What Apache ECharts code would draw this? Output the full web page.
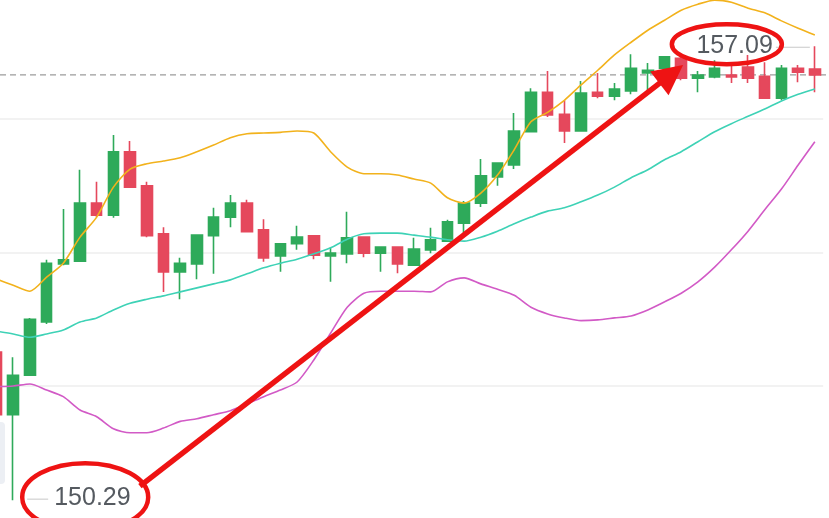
<!DOCTYPE html>
<html>
<head>
<meta charset="utf-8">
<script src="https://cdn.jsdelivr.net/npm/echarts@6/dist/echarts.min.js"></script>
<style>
html,body{margin:0;padding:0;background:#fff;}
#chart{width:829px;height:518px;}
</style>
</head>
<body>
<div id="chart"></div>
<script>
// ---- data ----
const categories = Array.from({length: 50}, (_, i) => String(i + 1));
const opens  = [152.51,151.57,152.16,152.96,153.83,153.87,154.74,154.56,155.51,155.00,154.28,153.71,153.83,154.25,154.53,154.74,154.34,153.95,154.13,154.25,153.95,153.98,154.23,153.99,154.08,153.81,154.04,154.17,154.44,154.74,155.13,155.31,155.81,156.40,156.07,155.82,156.40,156.34,156.42,156.69,156.76,156.91,156.61,156.63,156.66,156.78,156.64,156.31,156.76,156.75];
const closes = [151.57,152.16,153.00,153.84,153.89,154.74,154.56,155.51,154.98,154.25,153.71,153.84,154.26,154.53,154.74,154.31,153.92,154.13,154.23,153.96,153.99,154.22,153.99,154.08,153.83,154.05,154.19,154.46,154.74,155.15,155.34,155.82,156.40,156.06,155.82,156.39,156.34,156.45,156.76,156.73,156.93,156.61,156.66,156.76,156.63,156.61,156.31,156.76,156.70,156.66];
const lows   = [151.49,150.29,152.15,152.93,153.81,153.86,154.53,154.52,154.97,154.23,153.41,153.30,153.60,153.68,154.38,154.30,153.86,153.71,154.04,153.90,153.56,153.84,153.93,153.71,153.69,153.80,153.99,154.16,154.29,154.68,155.00,155.25,155.80,156.03,155.64,155.81,156.31,156.28,156.37,156.43,156.51,156.58,156.40,156.61,156.54,156.54,156.30,156.28,156.55,156.40];
const highs  = [152.61,152.43,153.02,153.89,154.65,155.24,155.06,155.76,155.67,155.06,154.38,153.92,154.27,154.67,154.86,154.79,154.50,154.14,154.40,154.26,154.07,154.61,154.24,154.09,154.09,154.22,154.37,154.49,154.77,155.40,155.35,156.09,156.46,156.72,156.28,156.57,156.69,156.54,156.97,156.84,156.94,156.96,156.72,156.88,156.85,156.96,156.85,156.81,156.81,157.09];
const upperBand = [153.60,153.51,153.42,153.63,153.84,154.23,154.53,154.98,155.25,155.33,155.37,155.42,155.51,155.61,155.72,155.78,155.79,155.80,155.82,155.79,155.51,155.28,155.18,155.18,155.16,155.10,155.04,154.82,154.74,154.89,155.16,155.54,155.96,156.10,156.28,156.51,156.73,156.96,157.15,157.33,157.48,157.63,157.72,157.78,157.75,157.66,157.59,157.47,157.36,157.26];
const midBand   = [152.82,152.78,152.73,152.78,152.84,152.96,153.02,153.14,153.24,153.30,153.35,153.41,153.47,153.53,153.59,153.68,153.77,153.84,153.90,153.98,154.07,154.20,154.28,154.29,154.29,154.26,154.23,154.19,154.17,154.23,154.32,154.43,154.53,154.62,154.67,154.76,154.86,154.98,155.12,155.24,155.39,155.51,155.66,155.81,155.93,156.04,156.15,156.27,156.37,156.45];
const lowerBand = [151.99,152.00,152.03,151.94,151.84,151.64,151.54,151.36,151.30,151.30,151.37,151.47,151.51,151.57,151.63,151.73,151.84,151.94,152.06,152.39,152.79,153.18,153.39,153.42,153.42,153.42,153.41,153.56,153.62,153.53,153.45,153.36,153.18,153.08,153.02,152.98,152.99,153.02,153.05,153.14,153.26,153.39,153.56,153.78,154.04,154.32,154.64,154.95,155.31,155.66];
const lastPrice = 156.66;
const lowLabel = '150.29';
const highLabel = '157.09';
const lowIndex = 1, highIndex = 49;          // category indices of the extreme candles
const arrowFrom = [8.59, 150.50];            // [category position, price]
const arrowTo   = [41.11, 156.81];

const UP = '#2EAA5A', DOWN = '#E5485C', RED = '#EE1313';

const candles = opens.map((o, i) => [o, closes[i], lows[i], highs[i]]);

const chart = echarts.init(document.getElementById('chart'), null, {renderer: 'canvas'});
const option = {
  animation: false,
  backgroundColor: '#ffffff',
  grid: {left: -11.85, right: 5.8, top: -14.5, bottom: -1.5, containLabel: false, outerBoundsMode: 'none'},
  xAxis: [
    {type: 'category', data: categories, boundaryGap: true, show: false},
    {type: 'value', min: -0.5, max: 49.5, show: false, splitLine: {show: false}}
  ],
  yAxis: {
    type: 'value', min: 150, max: 158, interval: 2, scale: true,
    axisLine: {show: false}, axisTick: {show: false}, axisLabel: {show: false},
    splitLine: {show: true, lineStyle: {color: '#eeeeee', width: 1.5}}
  },
  series: [
    {
      type: 'candlestick', data: candles, barWidth: 11, z: 2,
      itemStyle: {color: UP, color0: DOWN, borderColor: UP, borderColor0: DOWN, borderWidth: 1.6}
    },
    {type: 'line', data: upperBand, symbol: 'none', smooth: 0.25, z: 3,
     lineStyle: {color: '#F2B21C', width: 1.6}},
    {type: 'line', data: midBand, symbol: 'none', smooth: 0.25, z: 3,
     lineStyle: {color: '#3ED2B6', width: 1.6}},
    {type: 'line', data: lowerBand, symbol: 'none', smooth: 0.25, z: 3,
     lineStyle: {color: '#D25AC6', width: 1.6}}
  ]
};
chart.setOption(option);

function px(pos, price) {
  return chart.convertToPixel({xAxisIndex: 1, yAxisIndex: 0}, [pos, price]);
}
const lowPt = px(lowIndex, parseFloat(lowLabel));
const highPt = px(highIndex, parseFloat(highLabel));
const lastY = chart.convertToPixel({yAxisIndex: 0}, lastPrice);
const a0 = px(arrowFrom[0], arrowFrom[1]);
const a1 = px(arrowTo[0], arrowTo[1]);
const dx = a1[0] - a0[0], dy = a1[1] - a0[1];
const len = Math.sqrt(dx * dx + dy * dy);
const ux = dx / len, uy = dy / len;
const headLen = 30, headHalf = 15;
const base = [a1[0] - ux * headLen, a1[1] - uy * headLen];
const nx = -uy, ny = ux;

const textStyle = {fill: '#555a60', fontSize: 25, fontFamily: 'Liberation Sans, Arial, sans-serif'};

chart.setOption({
  graphic: [
    {type: 'line', z: 1, shape: {x1: 0, y1: lastY, x2: 829, y2: lastY},
     style: {stroke: '#9c9c9c', lineWidth: 1.3, lineDash: [6, 4]}},
    {type: 'rect', z: 5, shape: {x: -6, y: 422, width: 11, height: 62, r: 4}, style: {fill: '#eceff4'}},
    // low label
    {type: 'line', z: 5, shape: {x1: lowPt[0] + 14, y1: lowPt[1] - 1, x2: lowPt[0] + 35, y2: lowPt[1] - 1},
     style: {stroke: '#c8c8c8', lineWidth: 1}},
    {type: 'text', z: 5, x: lowPt[0] + 41, y: lowPt[1] - 2,
     style: Object.assign({text: lowLabel, verticalAlign: 'middle', align: 'left'}, textStyle)},
    // high label
    {type: 'line', z: 5, shape: {x1: highPt[0] - 39, y1: highPt[1] + 1, x2: highPt[0] - 5, y2: highPt[1] + 1},
     style: {stroke: '#c8c8c8', lineWidth: 1}},
    {type: 'text', z: 5, x: highPt[0] - 42, y: highPt[1],
     style: Object.assign({text: highLabel, verticalAlign: 'middle', align: 'right'}, textStyle)},
    // ellipses
    {type: 'ellipse', z: 6, shape: {cx: lowPt[0] + 72, cy: lowPt[1] - 3, rx: 63, ry: 34},
     style: {fill: 'none', stroke: RED, lineWidth: 4.5}},
    {type: 'ellipse', z: 6, shape: {cx: highPt[0] - 88, cy: highPt[1] - 2, rx: 55, ry: 20},
     style: {fill: 'none', stroke: RED, lineWidth: 4.5}},
    // arrow
    {type: 'line', z: 6, shape: {x1: a0[0], y1: a0[1], x2: base[0] + ux * 2, y2: base[1] + uy * 2},
     style: {stroke: RED, lineWidth: 5.5, lineCap: 'butt'}},
    {type: 'polygon', z: 6, shape: {points: [
       [a1[0], a1[1]],
       [base[0] + nx * headHalf, base[1] + ny * headHalf],
       [base[0] - nx * headHalf, base[1] - ny * headHalf]
     ]}, style: {fill: RED}}
  ]
});
</script>
</body>
</html>
